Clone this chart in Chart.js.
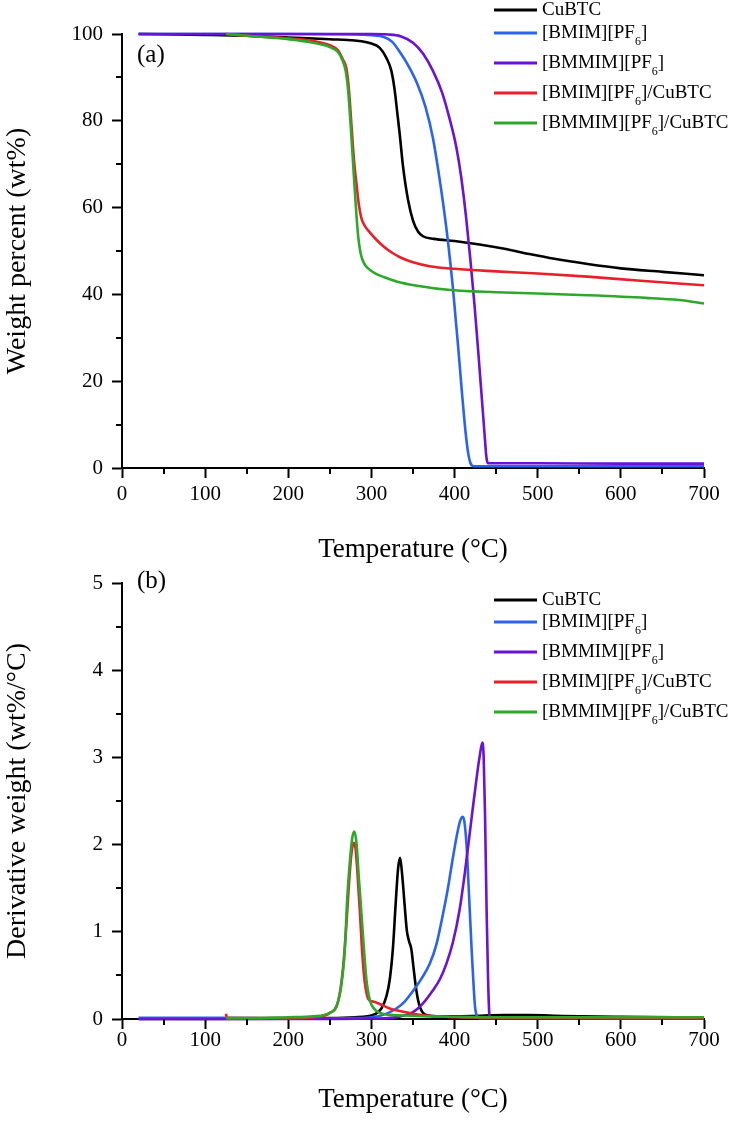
<!DOCTYPE html>
<html>
<head>
<meta charset="utf-8">
<script src="https://cdn.jsdelivr.net/npm/chart.js@4.4.1/dist/chart.umd.min.js"></script>
<style>
html,body{margin:0;padding:0;background:#fff;}
#wrap{position:relative;width:729px;height:1121px;overflow:hidden;background:#fff;}
canvas{position:absolute;left:0;}
#c1{top:0;width:729px;height:580px;}
#c2{top:560px;width:729px;height:561px;}
</style>
</head>
<body>
<div id="wrap">
<canvas id="c1" width="729" height="580"></canvas>
<canvas id="c2" width="729" height="561"></canvas>
</div>
<script>
// ---------- Series labels ----------
const seriesLabels = ['CuBTC', '[BMIM][PF₆]', '[BMMIM][PF₆]', '[BMIM][PF₆]/CuBTC', '[BMMIM][PF₆]/CuBTC'];
const seriesColors = ['#000000', '#2B62F0', '#6A12D6', '#E8202A', '#2EA82A'];

// ---------- Tick labels ----------
const xTicks = [0, 100, 200, 300, 400, 500, 600, 700];
const yTicksTGA = [0, 20, 40, 60, 80, 100];
const yTicksDTG = [0, 1, 2, 3, 4, 5];

// ---------- (a) TGA: weight percent vs temperature ----------
const tgaT_CuBTC = [20, 100, 150, 200, 250, 280, 300, 310, 318, 324, 328, 331, 334, 338, 344, 350, 356, 362, 375, 400, 430, 460, 490, 520, 560, 600, 650, 700];
const tgaW_CuBTC = [100, 99.8, 99.6, 99.2, 98.8, 98.5, 97.8, 96.8, 94.5, 91.5, 87, 82, 77, 69.5, 61.8, 57, 54.5, 53.4, 52.8, 52.3, 51.5, 50.5, 49.3, 48.2, 47, 46, 45.2, 44.4];

const tgaT_BMIM = [20, 100, 200, 280, 300, 315, 325, 335, 345, 355, 365, 374, 380, 386, 392, 398, 404, 409, 413, 416, 419, 423, 430, 500, 600, 700];
const tgaW_BMIM = [100, 100, 100, 99.9, 99.7, 99.3, 98.2, 95.6, 92.5, 88.6, 83.2, 76, 69.1, 61.3, 52.3, 41.5, 28.6, 17.1, 8.7, 3.9, 1.2, 0.4, 0.4, 0.4, 0.4, 0.4];

const tgaT_BMMIM = [20, 100, 200, 300, 320, 335, 350, 362, 374, 385, 394, 402, 408, 414, 419, 424, 429, 433, 436, 438, 439.5, 441, 500, 600, 700];
const tgaW_BMMIM = [100, 100, 100, 100, 99.9, 99.5, 98, 95.5, 91.5, 86.5, 80.5, 74, 67, 57.5, 48, 37.5, 25.5, 15.5, 8, 3, 1.3, 1.1, 1.1, 1.0, 1.0];

const tgaT_BMIMCu = [125, 150, 200, 230, 250, 260, 266, 270, 273, 276, 279, 282, 285, 288, 292, 298, 306, 315, 325, 335, 350, 370, 400, 450, 500, 560, 620, 700];
const tgaW_BMIMCu = [100, 99.6, 99, 98.4, 97.4, 96.2, 94, 92, 87, 79, 71, 65.5, 60.5, 57.5, 55.8, 54.3, 52.6, 51, 49.6, 48.5, 47.4, 46.5, 45.9, 45.3, 44.8, 44.1, 43.2, 42.1];

const tgaT_BMMIMCu = [125, 150, 200, 230, 250, 260, 265, 269, 272, 275, 278, 281, 284, 287, 291, 296, 305, 315, 330, 355, 395, 450, 500, 560, 630, 670, 700];
const tgaW_BMMIMCu = [100, 99.6, 98.8, 98, 97, 95.8, 94, 91.5, 87, 79, 70, 61, 53.5, 49.5, 47.2, 46, 44.8, 44, 43, 42, 41, 40.5, 40.2, 39.8, 39.2, 38.7, 37.9];

// ---------- (b) DTG: derivative weight vs temperature ----------
const dtgT_CuBTC = [20, 100, 200, 250, 280, 295, 305, 312, 318, 322, 326, 329, 332, 334.5, 337, 340, 342.5, 345, 348, 350.5, 353, 356, 359, 363, 368, 380, 420, 460, 490, 530, 600, 700];
const dtgD_CuBTC = [0, 0, 0.005, 0.01, 0.02, 0.03, 0.06, 0.12, 0.26, 0.45, 0.83, 1.3, 1.72, 1.85, 1.65, 1.3, 1.02, 0.9, 0.8, 0.6, 0.4, 0.22, 0.12, 0.06, 0.04, 0.03, 0.035, 0.045, 0.045, 0.035, 0.025, 0.015];

const dtgT_BMIM = [20, 120, 200, 250, 280, 300, 315, 330, 340, 350, 360, 370, 378, 386, 392, 398, 403, 407, 410, 412, 414.5, 416.5, 418.5, 420.5, 422.5, 424.5, 427, 430, 500, 600, 700];
const dtgD_BMIM = [0.015, 0.015, 0.005, 0.005, 0.01, 0.02, 0.05, 0.12, 0.2, 0.32, 0.46, 0.63, 0.85, 1.2, 1.5, 1.85, 2.12, 2.28, 2.32, 2.25, 1.98, 1.6, 1.2, 0.8, 0.45, 0.15, 0.03, 0.01, 0.01, 0.01, 0.01];

const dtgT_BMMIM = [20, 150, 250, 300, 320, 335, 350, 362, 374, 382, 390, 398, 406, 412, 418.5, 423, 427, 430, 433.4, 435, 436.6, 438.6, 440.2, 441.7, 443, 450, 500, 600, 700];
const dtgD_BMMIM = [0, 0, 0, 0.005, 0.01, 0.03, 0.08, 0.18, 0.33, 0.45, 0.63, 0.88, 1.25, 1.65, 2.15, 2.5, 2.8, 3.0, 3.17, 3.0, 2.36, 1.21, 0.5, 0.07, 0.01, 0.01, 0.01, 0.01, 0.01];

const dtgT_BMIMCu = [125, 126, 127, 150, 200, 230, 250, 260, 266, 270, 273, 276, 279, 281, 283, 286, 289, 292, 295, 298, 302, 308, 315, 322, 330, 340, 350, 365, 380, 400, 450, 500, 600, 700];
const dtgD_BMIMCu = [0.06, 0.02, 0.01, 0.01, 0.01, 0.02, 0.07, 0.2, 0.6, 1.1, 1.55, 1.9, 2.02, 1.95, 1.7, 1.25, 0.75, 0.42, 0.26, 0.21, 0.2, 0.18, 0.15, 0.12, 0.1, 0.08, 0.06, 0.04, 0.03, 0.02, 0.015, 0.015, 0.01, 0.01];

const dtgT_BMMIMCu = [125, 150, 200, 230, 250, 258, 264, 268, 271, 274, 277, 279.4, 282, 285, 288, 291, 294, 298, 303, 310, 320, 340, 370, 400, 450, 500, 600, 700];
const dtgD_BMMIMCu = [0.01, 0.01, 0.02, 0.03, 0.07, 0.15, 0.4, 0.8, 1.4, 1.8, 2.08, 2.15, 2.02, 1.6, 1.21, 0.8, 0.45, 0.22, 0.12, 0.07, 0.05, 0.04, 0.03, 0.025, 0.02, 0.02, 0.02, 0.02];

// ---------- helpers ----------
const FONT = '"Liberation Serif", "Times New Roman", serif';
const zip = (xs, ys) => xs.map((x, i) => ({x: x, y: ys[i]}));

function makeDatasets(pairs) {
  return pairs.map((p, i) => ({
    label: seriesLabels[i],
    data: zip(p[0], p[1]),
    borderColor: seriesColors[i],
    backgroundColor: seriesColors[i],
    borderWidth: 2.6,
    pointRadius: 0,
    cubicInterpolationMode: 'monotone',
    fill: false,
    clip: false,
    order: 5 - i
  }));
}

const overlayPlugin = {
  id: 'overlay',
  afterDraw(chart, args, opts) {
    const ctx = chart.ctx;
    const xs = chart.scales.x, ys = chart.scales.y;
    ctx.save();
    // minor ticks
    ctx.strokeStyle = '#000';
    ctx.lineWidth = 2;
    ctx.beginPath();
    opts.xMinor.forEach(v => {
      const px = Math.round(xs.getPixelForValue(v));
      ctx.moveTo(px, chart.chartArea.bottom);
      ctx.lineTo(px, chart.chartArea.bottom + 6);
    });
    opts.yMinor.forEach(v => {
      const py = Math.round(ys.getPixelForValue(v));
      ctx.moveTo(chart.chartArea.left, py);
      ctx.lineTo(chart.chartArea.left - 6, py);
    });
    ctx.stroke();
    // panel label
    ctx.fillStyle = '#000';
    ctx.textAlign = 'left';
    ctx.textBaseline = 'middle';
    ctx.font = '25px ' + FONT;
    ctx.fillText(opts.panel, opts.panelX, opts.panelY);
    // legend
    const fs = 19;
    chart.data.datasets.forEach((ds, i) => {
      const y = opts.legendY[i];
      ctx.strokeStyle = ds.borderColor;
      ctx.lineWidth = 3;
      ctx.beginPath();
      ctx.moveTo(opts.legendX0, y);
      ctx.lineTo(opts.legendX1, y);
      ctx.stroke();
      let x = opts.legendTX;
      const parts = ds.label.split('₆');
      ctx.fillStyle = '#000';
      parts.forEach((p, k) => {
        ctx.font = fs + 'px ' + FONT;
        ctx.fillText(p, x, y);
        x += ctx.measureText(p).width;
        if (k < parts.length - 1) {
          ctx.font = '12px ' + FONT;
          ctx.fillText('6', x, y + 9);
          x += ctx.measureText('6').width;
        }
      });
    });
    ctx.restore();
  }
};

function axisCommon() {
  return {
    border: {display: true, color: '#000', width: 2},
    grid: {display: true, drawOnChartArea: false, drawTicks: true, tickLength: 10, tickWidth: 2, tickColor: '#000', color: '#000'},
  };
}

function makeChart(canvasId, datasets, cfg) {
  return new Chart(document.getElementById(canvasId), {
    type: 'line',
    data: {datasets: datasets},
    plugins: [overlayPlugin],
    options: {
      responsive: false,
      animation: false,
      events: [],
      layout: {padding: {left: 0, right: 25, top: cfg.padTop, bottom: cfg.padBottom}},
      plugins: {
        legend: {display: false},
        tooltip: {enabled: false},
        overlay: cfg.overlay
      },
      scales: {
        x: Object.assign(axisCommon(), {
          type: 'linear',
          min: 0, max: 700,
          afterBuildTicks: (s) => { s.ticks = xTicks.map(v => ({value: v})); },
          afterFit: (s) => { s.height = cfg.xHeight; },
          ticks: {color: '#000', font: {family: FONT, size: 21}, padding: cfg.xTickPad, maxRotation: 0, autoSkip: false},
          title: {display: true, text: 'Temperature (°C)', color: '#000', font: {family: FONT, size: 27, lineHeight: 1.2}, padding: {top: 0, bottom: 0}}
        }),
        y: Object.assign(axisCommon(), {
          type: 'linear',
          min: cfg.yMin, max: cfg.yMax,
          afterBuildTicks: (s) => { s.ticks = cfg.yTicks.map(v => ({value: v})); },
          afterFit: (s) => { s.width = 122; },
          ticks: {color: '#000', font: {family: FONT, size: 21}, padding: 9, autoSkip: false},
          title: {display: true, text: cfg.yTitle, color: '#000', font: {family: FONT, size: 28, lineHeight: 1.2}, padding: {top: 1, bottom: 0}}
        })
      }
    }
  });
}

makeChart('c1', makeDatasets([
  [tgaT_CuBTC, tgaW_CuBTC], [tgaT_BMIM, tgaW_BMIM], [tgaT_BMMIM, tgaW_BMMIM],
  [tgaT_BMIMCu, tgaW_BMIMCu], [tgaT_BMMIMCu, tgaW_BMMIMCu]
]), {
  padTop: 34, padBottom: 14, xHeight: 98, xTickPad: 4,
  yMin: 0, yMax: 100, yTicks: yTicksTGA,
  yTitle: 'Weight percent (wt%)',
  overlay: {
    xMinor: [50, 150, 250, 350, 450, 550, 650],
    yMinor: [10, 30, 50, 70, 90],
    panel: '(a)', panelX: 137, panelY: 55,
    legendX0: 494, legendX1: 537, legendTX: 542,
    legendY: [10, 33, 63, 93, 123]
  }
});

makeChart('c2', makeDatasets([
  [dtgT_CuBTC, dtgD_CuBTC], [dtgT_BMIM, dtgD_BMIM], [dtgT_BMMIM, dtgD_BMMIM],
  [dtgT_BMIMCu, dtgD_BMIMCu], [dtgT_BMMIMCu, dtgD_BMMIMCu]
]), {
  padTop: 23, padBottom: 5, xHeight: 97, xTickPad: -1,
  yMin: 0, yMax: 5, yTicks: yTicksDTG,
  yTitle: 'Derivative weight (wt%/°C)',
  overlay: {
    xMinor: [50, 150, 250, 350, 450, 550, 650],
    yMinor: [0.5, 1.5, 2.5, 3.5, 4.5],
    panel: '(b)', panelX: 137, panelY: 21,
    legendX0: 494, legendX1: 537, legendTX: 542,
    legendY: [40, 62, 92, 122, 152]
  }
});
</script>
</body>
</html>
